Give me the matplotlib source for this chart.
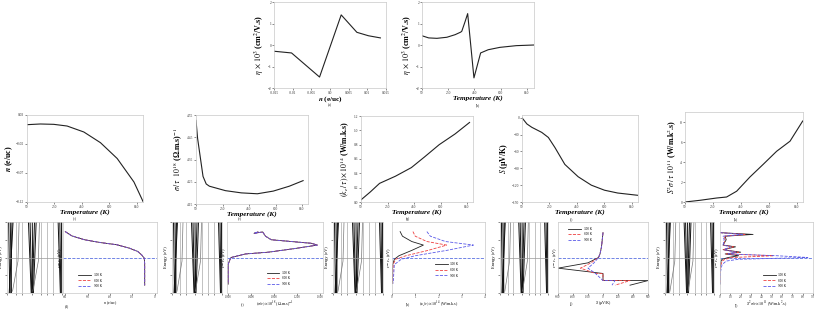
import numpy as np
import matplotlib.pyplot as plt

# ==========================================
# Data
# ==========================================

# (a) mobility vs carrier concentration
eta_n = [-0.015, -0.0103, -0.0028, 0.003, 0.0072, 0.0103, 0.0135]
eta_n_val = [-0.29, -0.37, -1.49, 1.40, 0.59, 0.43, 0.33]

# (b) mobility vs temperature
eta_T = [50, 101, 164, 240, 303, 346, 354, 380, 399, 447, 498, 556, 645, 771, 906]
eta_T_val = [0.43, 0.33, 0.31, 0.36, 0.48, 0.60, 0.64, 1.10, 1.46, -1.53, -0.37, -0.22, -0.11, -0.03, 0.0]

# middle row, common temperature axis
T_c = [50, 147, 245, 342, 464, 585, 707, 829, 897]
n_T = [0.0133, 0.0145, 0.0139, 0.011, 0.0007, -0.0177, -0.045, -0.0855, -0.12]

T_d = [50, 62, 103, 127, 151, 272, 392, 513, 633, 754, 858]
sigma_T = [4.526, 4.445, 4.274, 4.24, 4.23, 4.21, 4.20, 4.196, 4.208, 4.23, 4.255]

T_e = [50, 120, 190, 310, 430, 530, 640, 760, 869]
kappa_T = [0.03, 0.14, 0.26, 0.36, 0.48, 0.63, 0.80, 0.95, 1.11]

T_f = [50, 86, 122, 194, 242, 290, 362, 459, 555, 651, 747, 891]
S_T = [0, -11, -17, -26, -35, -53, -83, -105, -120, -129, -134, -138]

T_g = [50, 157, 277, 348, 420, 515, 611, 706, 802, 893]
pf_T = [0.0, 0.17, 0.4, 0.5, 1.08, 2.5, 3.78, 5.07, 6.08, 8.1]

# bottom row, energy axis (eV relative to Fermi level)
E_n = [0.73, 0.61, 0.50, 0.42, 0.36, 0.26, 0.17, 0.07, -0.02, -0.17, -0.78]
n_E = [-40, -37.1, -31.4, -24.2, -17, -11.2, -7.6, -5.8, -4.7, -4.5, -4.5]

E_sig = [0.72, 0.68, 0.72, 0.6, 0.5, 0.45, 0.4, 0.35, 0.25, 0.15, 0.1, 0.0, -0.1, -0.2, -0.75]
sig_E = [0.52, 0.45, 0.6, 0.65, 0.75, 1.1, 1.45, 1.55, 1.15, 0.7, 0.3, 0.05, 0.02, 0.0, 0.0]

E_kap = [0.73, 0.6, 0.45, 0.35, 0.2, 0.05, -0.05, -0.2, -0.73]
kap_300 = [0.35, 0.45, 0.85, 1.35, 0.85, 0.3, 0.1, 0.03, 0.02]
kap_600 = [0.9, 1.0, 1.5, 2.35, 1.55, 0.6, 0.15, 0.05, 0.03]
kap_900 = [1.5, 1.65, 2.3, 3.5, 2.35, 1.0, 0.4, 0.1, 0.05]

E_S = [0.7, 0.5, 0.3, 0.1, 0.0, -0.15, -0.3, -0.45, -0.45, -0.65, -0.65, -0.78]
S_300 = [0, -5, -10, -20, -30, -100, -300, 0, 0, 0, 300, 180]
S_600 = [0, -5, -10, -20, -30, -80, -150, -50, 0, 0, 180, 80]
S_900 = [0, -5, -10, -20, -30, -60, -100, -50, -50, 0, 80, 60]

E_pf = [0.7, 0.65, 0.6, 0.5, 0.35, 0.3, 0.22, 0.15, 0.1, 0.05, 0.0, -0.05, -0.1, -0.2, -0.4, -0.75]
pf_300 = [0.0, 3.2, 0.5, 0.6, 0.3, 1.5, 0.3, 2.0, 0.5, 1.8, 0.8, 0.2, 0.1, 0.05, 0.0, 0.0]
pf_600 = [0.0, 2.5, 0.4, 0.5, 0.3, 1.3, 0.3, 1.8, 0.6, 5.2, 1.2, 0.5, 0.2, 0.1, 0.0, 0.0]
pf_900 = [0.0, 2.2, 0.3, 0.4, 0.3, 1.0, 0.4, 1.5, 0.8, 5.5, 8.5, 1.8, 0.6, 0.2, 0.05, 0.0]

# band structure sketch (k in 0..1, E in eV): each band is (k at top, k at bottom)
band_grey_k = [0.16, 0.28, 0.61, 0.73, 0.84]
band_dark_top = [0.03, 0.06, 0.09, 0.11, 0.39, 0.42, 0.46, 0.50, 0.53, 0.93, 0.96, 0.99]
band_dark_bot = [0.05, 0.08, 0.07, 0.04, 0.44, 0.45, 0.47, 0.46, 0.48, 0.97, 0.98, 0.995]
band_slope_k = [[0.10, 0.20, 0.22], [0.47, 0.57, 0.59]]
band_slope_E = [[-0.95, -0.1, 1.0], [-0.95, -0.1, 1.0]]

temps = ["300 K", "600 K", "900 K"]
colors = ["#222222", "#ee4040", "#5a5ae8"]
styles = ["-", "--", "--"]

# ==========================================
# Figure setup
# ==========================================

plt.rcParams['font.family'] = 'Liberation Serif'
plt.rcParams['mathtext.fontset'] = 'stix'

W, H = 817, 310
fig = plt.figure(figsize=(W / 100, H / 100), dpi=100)


def box(l, t, r, b):
    ax = fig.add_axes([l / W, 1 - b / H, (r - l) / W, (b - t) / H])
    for s in ax.spines.values():
        s.set_color('#c8c8c8')
        s.set_linewidth(0.5)
    ax.tick_params(labelsize=2.6, length=1.2, width=0.4, pad=0.8, colors='#333333')
    return ax


def label(x, y, s, size=2.6):
    fig.text(x / W, 1 - y / H, s, ha='center', va='center', fontsize=size)


temp_ticks = [50, 250, 450, 650, 850]
temp_label = dict(fontsize=5.2, fontweight='bold', style='italic', labelpad=0)

# ==========================================
# Top row
# ==========================================

ax = box(274, 2, 386, 88)
ax.plot(eta_n, eta_n_val, color='#222222', lw=0.8)
ax.set_xlim(-0.015, 0.015)
ax.set_ylim(-2, 2)
ax.set_xticks([-0.015, -0.01, -0.005, 0, 0.005, 0.01, 0.015])
ax.set_xticklabels(["-0.015", "-0.01", "-0.005", "0.0", "0.005", "0.01", "0.015"])
ax.set_yticks([-2, -1, 0, 1, 2])
ax.set_xlabel(r"$\boldsymbol{n}$ (e/uc)", fontsize=5.2, fontweight='bold', labelpad=0)
ax.set_ylabel(r"$\eta\ \times 10^3$ (cm$^2$/V.s)", fontsize=5.8, fontweight='bold', labelpad=1)
label(330, 105, "(a)")

ax = box(422, 2, 534, 88)
ax.plot(eta_T, eta_T_val, color='#222222', lw=0.8)
ax.set_xlim(50, 906)
ax.set_ylim(-2, 2)
ax.set_xticks(temp_ticks)
ax.set_yticks([-2, -1, 0, 1, 2])
ax.set_xlabel("Temperature (K)", fontsize=5.2, fontweight='bold', style='italic', labelpad=0)
ax.set_ylabel(r"$\eta\ \times 10^3$ (cm$^2$/V.s)", fontsize=5.8, fontweight='bold', labelpad=1)
label(478, 105, "(b)")

# ==========================================
# Middle row
# ==========================================

mid = [
    ((27, 115, 143, 202), T_c, n_T, (-0.12, 0.03), [-0.12, -0.07, -0.02, 0.03],
     r"$\boldsymbol{n}$ (e/uc)", 75, "(c)"),
    ((196, 115, 308, 204), T_d, sigma_T, (4.15, 4.55), [4.15, 4.25, 4.35, 4.45, 4.55],
     r"$\sigma\,/\,\tau\ \ 10^{18}$ (Ω.m.s)$^{-1}$", 240, "(e)"),
    ((361, 116, 473, 202), T_e, kappa_T, (0, 1.2), [0, 0.2, 0.4, 0.6, 0.8, 1.0, 1.2],
     r"$(k_e\,/\,\tau)\times 10^{14}$ (W/m.k.s)", 408, "(g)"),
    ((522, 115, 638, 202), T_f, S_T, (-150, 5), [-150, -120, -90, -60, -30, 0],
     r"$S$ (μV/K)", 572, "(i)"),
    ((685, 112, 803, 202), T_g, pf_T, (0, 9), [0, 2, 4, 6, 8],
     r"$S^2\sigma\,/\,\tau\ 10^{11}$ (W/m.k$^2$.s)", 736, "(k)"),
]

for rect, xs, ys, ylim, yt, ylab, lx, tag in mid:
    ax = box(*rect)
    ax.plot(xs, ys, color='#222222', lw=0.8)
    ax.set_xlim(50, 895)
    ax.set_ylim(*ylim)
    ax.set_xticks(temp_ticks)
    ax.set_yticks(yt)
    ax.set_xlabel("Temperature (K)", **temp_label)
    ax.set_ylabel(ylab, fontsize=5.6, fontweight='bold', labelpad=1)
    label(lx, 219, tag)

# ==========================================
# Bottom row
# ==========================================


def bands(rect):
    ax = box(*rect)
    for k in band_grey_k:
        ax.plot([k, k], [-1, 1], color='#aaaaaa', lw=0.5)
    for kt, kb in zip(band_dark_top, band_dark_bot):
        ax.plot([kt, kb], [1, -1], color='#111111', lw=0.7)
    for ks, es in zip(band_slope_k, band_slope_E):
        ax.plot(ks, es, color='#777777', lw=0.5)
    ax.axhline(0, color='#999999', lw=0.5)
    ax.set_xlim(0, 1)
    ax.set_ylim(-1, 1)
    ax.set_xticks([0, 0.16, 0.28, 0.45, 0.61, 0.73, 0.84, 1])
    ax.set_xticklabels([])
    ax.set_yticks([-1, -0.5, 0, 0.5, 1])
    ax.set_yticklabels([])
    ax.set_ylabel("Energy (eV)", fontsize=3.2, labelpad=1)
    return ax


def prop(rect, xlab, xlim, xt, xtl):
    ax = box(*rect)
    ax.tick_params(labelsize=2.2, pad=0.5)
    ax.axhline(0, color='#5a70e0', lw=0.6, ls='--')
    ax.set_ylim(-1, 1)
    ax.set_yticks([])
    ax.set_xlim(*xlim)
    ax.set_xticks(xt)
    ax.set_xticklabels(xtl)
    ax.set_xlabel(xlab, fontsize=3, labelpad=0)
    ax.set_ylabel(r"$\varepsilon-\varepsilon_F$ (eV)", fontsize=3.2, labelpad=-1)
    return ax


def legend(ax, loc):
    leg = ax.legend(loc=loc, fontsize=2.3, frameon=False, handlelength=4)
    return leg


# (d) carrier concentration
bands((7, 222, 62, 293))
ax = prop((63, 222, 157, 293), r"$n$ (e/uc)", (-41, 1), [-40, -30, -20, -10, 0],
          ["-40", "-30", "-20", "-10", "0"])
for t, c, s in zip(temps, colors, styles):
    ax.plot(n_E, E_n, color=c, ls=s, lw=0.6, label=t)
legend(ax, (0.15, 0.05))
label(67, 306, "(d)")

# (f) conductivity
bands((172, 222, 222, 293))
ax = prop((227, 222, 323, 293), r"$(\sigma/\tau)\times10^{18}$ (Ω.m.s)$^{-1}$", (-0.02, 1.65),
          [0, 0.4, 0.8, 1.2, 1.6], ["0.000", "0.400", "0.800", "1.200", "1.600"])
for t, c, s in zip(temps, colors, styles):
    ax.plot(sig_E, E_sig, color=c, ls=s, lw=0.6, label=t)
legend(ax, (0.4, 0.08))
label(243, 305, "(f)")

# (h) electronic thermal conductivity
bands((333, 222, 383, 293))
ax = prop((392, 222, 485, 293), r"$(\kappa_e/\tau)\times10^{14}$ (W/m.k.s)", (0, 4),
          [0, 1, 2, 3, 4], ["0", "1", "2", "3", "4"])
for t, c, s, ys in zip(temps, colors, styles, [kap_300, kap_600, kap_900]):
    ax.plot(ys, E_kap, color=c, ls=s, lw=0.6, label=t)
legend(ax, (0.45, 0.2))
label(408, 304, "(h)")

# (j) Seebeck
bands((500, 222, 548, 293))
ax = prop((558, 222, 648, 293), r"$S$ (μV/K)", (-300, 300),
          [-300, -200, -100, 0, 100, 200, 300],
          ["-300", "-200", "-100", "0", "100", "200", "300"])
for t, c, s, ys in zip(temps, colors, styles, [S_300, S_600, S_900]):
    ax.plot(ys, E_S, color=c, ls=s, lw=0.6, label=t)
legend(ax, (0.1, 0.7))
label(572, 304, "(j)")

# (l) power factor
bands((665, 222, 714, 293))
ax = prop((720, 222, 813, 293), r"$S^2\sigma/\tau\times10^{11}$ (W/m.k$^2$.s)", (0, 9),
          list(range(10)), ["0", "1.0", "2.0", "3.0", "4.0", "5.0", "6.0", "7.0", "8.0", "9.0"])
for t, c, s, ys in zip(temps, colors, styles, [pf_300, pf_600, pf_900]):
    ax.plot(ys, E_pf, color=c, ls=s, lw=0.6, label=t)
legend(ax, (0.45, 0.05))
label(737, 305, "(l)")

fig.savefig("out.png", dpi=100)
